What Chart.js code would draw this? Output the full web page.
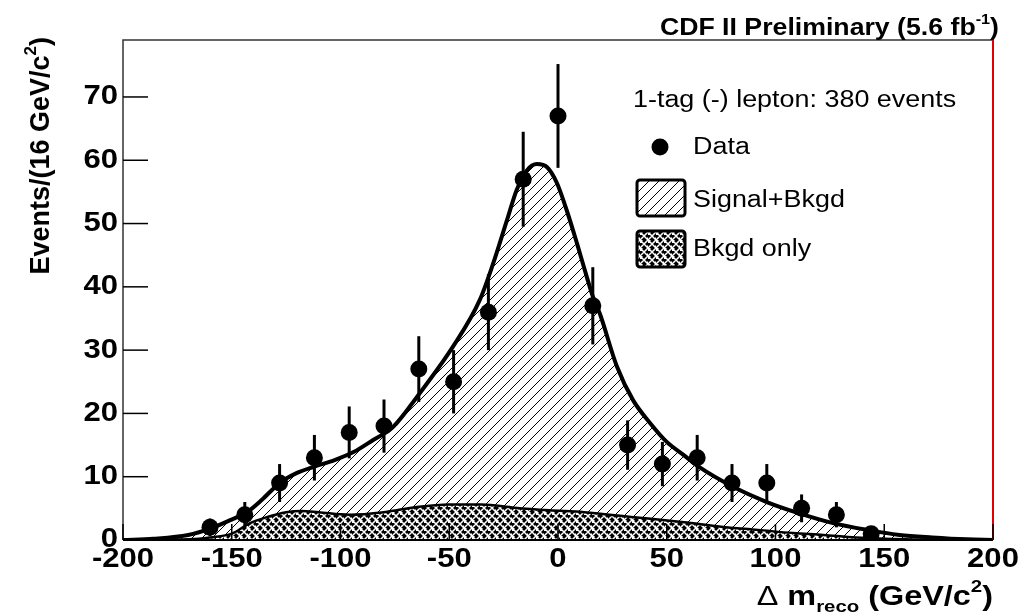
<!DOCTYPE html>
<html>
<head>
<meta charset="utf-8">
<script src="https://cdn.jsdelivr.net/npm/chart.js@4"></script>
<style>
  body { margin: 0; background: #fff; }
</style>
</head>
<body>
<canvas id="c" width="1025" height="614"></canvas>
<script>
// bin centres (GeV/c^2) and observed events per 16 GeV/c^2
const binCenters = [-160, -144, -128, -112, -96, -80, -64, -48, -32, -16, 0, 16, 32, 48, 64, 80, 96, 112, 128, 144];
const counts     = [2, 4, 9, 13, 17, 18, 27, 25, 36, 57, 67, 37, 15, 12, 13, 9, 9, 5, 4, 1];
const countErr   = [1.4, 2, 3, 3.6, 4.1, 4.2, 5.2, 5, 6, 7.5, 8.2, 6.1, 3.9, 3.5, 3.6, 3, 3, 2.2, 2, 1];

// Signal+Bkgd template curve
const sbX = [-200, -186, -170, -160, -151, -143, -136, -128, -120, -112, -103, -94, -85, -76, -64, -48, -36, -30, -23.5, -19, -14.3, -9.7, -5, -0.5, 4, 8.7, 13.3, 16, 19.3, 27, 34.5, 42.3, 50, 57.5, 65, 80.5, 96, 111, 126, 142, 157, 172, 188, 200];
const sbY = [0, 0.2, 0.8, 1.8, 3.1, 4.4, 6.4, 9.0, 10.6, 11.6, 12.6, 13.9, 15.8, 17.8, 23.0, 30.7, 37.9, 43.5, 50.5, 55.3, 58.4, 59.4, 58.9, 56.4, 52.1, 46.9, 41.5, 38.5, 35.7, 27.5, 22.1, 18.5, 15.5, 13.5, 11.5, 8.4, 6.0, 4.2, 2.7, 1.6, 0.8, 0.4, 0.1, 0];

// Bkgd only template curve
const bkX = [-200, -180, -165, -160, -150, -142, -134, -125, -118, -110, -96, -80, -65, -50, -35, -20, -4, 12, 35, 58, 75, 92, 108, 122, 137, 160, 180, 200];
const bkY = [0, 0.05, 0.2, 0.4, 1.0, 2.6, 3.6, 4.4, 4.6, 4.4, 4.0, 4.4, 5.2, 5.6, 5.6, 5.1, 4.7, 4.4, 3.6, 2.8, 2.1, 1.6, 1.1, 0.8, 0.4, 0.1, 0.02, 0];

const xTickValues = [-200, -150, -100, -50, 0, 50, 100, 150, 200];
const yTickValues = [0, 10, 20, 30, 40, 50, 60, 70];

const canvas = document.getElementById('c');
const ctx = canvas.getContext('2d');

function hatchPattern() {
    const t = document.createElement('canvas');
    t.width = 10; t.height = 10;
    const g = t.getContext('2d');
    g.fillStyle = '#fff';
    g.fillRect(0, 0, 10, 10);
    g.strokeStyle = '#000';
    g.lineWidth = 1;
    g.beginPath();
    g.moveTo(-1, 11); g.lineTo(11, -1);
    g.moveTo(-6, 6); g.lineTo(6, -6);
    g.moveTo(4, 16); g.lineTo(16, 4);
    g.stroke();
    return ctx.createPattern(t, 'repeat');
}

function crossPattern() {
    const t = document.createElement('canvas');
    t.width = 8; t.height = 8;
    const g = t.getContext('2d');
    g.fillStyle = '#000';
    g.fillRect(0, 0, 8, 8);
    g.strokeStyle = '#fff';
    g.lineWidth = 1.5;
    g.beginPath();
    g.moveTo(-1, 9); g.lineTo(9, -1);
    g.moveTo(-1, -1); g.lineTo(9, 9);
    g.moveTo(3, -1); g.lineTo(-1, 3);
    g.moveTo(9, 5); g.lineTo(5, 9);
    g.stroke();
    return ctx.createPattern(t, 'repeat');
}

const hatch = hatchPattern();
const cross = crossPattern();

// horizontally stretched text, the original plot is squeezed that way
const SX = 1.17;
function txt(c, s, x, y, font, align, base, sx) {
    c.save();
    c.font = font;
    c.textAlign = align || 'left';
    c.textBaseline = base || 'alphabetic';
    c.translate(x, y);
    c.scale(sx || SX, 1);
    c.fillText(s, 0, 0);
    c.restore();
}

// pieces: [text, font, dy]; drawn right-aligned ending at xr
function pieces(c, parts, xr, y, sx) {
    let w = 0;
    parts.forEach(p => { c.font = p[1]; w += c.measureText(p[0]).width * sx; });
    let x = xr - w;
    parts.forEach(p => {
        txt(c, p[0], x, y + (p[2] || 0), p[1], 'left', 'alphabetic', sx);
        c.font = p[1];
        x += c.measureText(p[0]).width * sx;
    });
}

const decor = {
    id: 'decor',
    afterDatasetsDraw(chart) {
        const c = chart.ctx;
        const a = chart.chartArea;
        const xs = chart.scales.x, ys = chart.scales.y;
        c.save();
        // error bars
        c.strokeStyle = '#000';
        c.lineWidth = 3;
        binCenters.forEach((x, i) => {
            const px = xs.getPixelForValue(x);
            c.beginPath();
            c.moveTo(px, ys.getPixelForValue(counts[i] - countErr[i]));
            c.lineTo(px, ys.getPixelForValue(counts[i] + countErr[i]));
            c.stroke();
        });
        // frame
        c.lineWidth = 1.5;
        c.strokeStyle = '#333';
        c.beginPath();
        c.moveTo(a.left, a.bottom); c.lineTo(a.left, a.top); c.lineTo(a.right, a.top);
        c.stroke();
        c.lineWidth = 2;
        c.strokeStyle = '#000';
        c.beginPath();
        c.moveTo(a.left, a.bottom); c.lineTo(a.right, a.bottom);
        c.stroke();
        c.strokeStyle = '#e00000';
        c.beginPath();
        c.moveTo(a.right, a.top); c.lineTo(a.right, a.bottom);
        c.stroke();
        // inward ticks
        c.strokeStyle = '#000';
        c.lineWidth = 1.5;
        yTickValues.forEach(v => {
            const py = ys.getPixelForValue(v);
            c.beginPath(); c.moveTo(a.left, py); c.lineTo(a.left + 25, py); c.stroke();
        });
        xTickValues.forEach(v => {
            const px = xs.getPixelForValue(v);
            c.beginPath(); c.moveTo(px, a.bottom); c.lineTo(px, a.bottom - 16); c.stroke();
        });
        c.restore();
    },
    afterDraw(chart) {
        const c = chart.ctx;
        const a = chart.chartArea;
        const xs = chart.scales.x, ys = chart.scales.y;
        const bold = s => 'bold ' + s + 'px "Liberation Sans", Arial, sans-serif';
        const reg = s => s + 'px "Liberation Sans", Arial, sans-serif';
        c.save();
        c.fillStyle = '#000';

        // tick labels
        yTickValues.forEach(v => {
            txt(c, String(v), a.left - 5, ys.getPixelForValue(v), bold(27), 'right', 'middle', 1.15);
        });
        xTickValues.forEach(v => {
            txt(c, String(v), xs.getPixelForValue(v), a.bottom + 20, bold(27), 'center', 'middle', 1.15);
        });

        // axis titles
        pieces(c, [['\u0394 ', reg(27)], ['m', bold(27)], ['reco', bold(17), 7],
                   [' (GeV/c', bold(27)], ['2', bold(17), -13], [')', bold(27)]],
               a.right, a.bottom + 65, 1.2);

        c.save();
        c.translate(49, a.top - 3);
        c.rotate(-Math.PI / 2);
        pieces(c, [['Events/(16 GeV/c', bold(27)], ['2', bold(17), -13], [')', bold(27)]], 0, 0, 1);
        c.restore();

        // top label
        pieces(c, [['CDF II Preliminary (5.6 fb', bold(23)], ['-1', bold(14), -11], [')', bold(23)]],
               a.right + 6, a.top - 5, 1.16);

        // legend
        const lx = a.left + 510;
        txt(c, '1-tag (-) lepton: 380 events', lx, a.top + 67, reg(23));
        c.beginPath();
        c.arc(lx + 27, a.top + 107, 8.5, 0, Math.PI * 2);
        c.fill();
        txt(c, 'Data', lx + 60, a.top + 114, reg(23));

        c.lineWidth = 3;
        c.strokeStyle = '#000';
        c.fillStyle = hatch;
        c.beginPath(); c.roundRect(lx + 4, a.top + 140, 48, 36, 3); c.fill(); c.stroke();
        c.fillStyle = cross;
        c.beginPath(); c.roundRect(lx + 4, a.top + 191, 48, 36, 3); c.fill(); c.stroke();
        c.fillStyle = '#000';
        txt(c, 'Signal+Bkgd', lx + 60, a.top + 167, reg(23));
        txt(c, 'Bkgd only', lx + 60, a.top + 216, reg(23));
        c.restore();
    }
};

const dataPoints = binCenters.map((x, i) => ({x: x, y: counts[i]}));
const sbCurve = sbX.map((x, i) => ({x: x, y: sbY[i]}));
const bkCurve = bkX.map((x, i) => ({x: x, y: bkY[i]}));
const zeroLine = [{x: binCenters[0], y: 0}, {x: binCenters[binCenters.length - 2], y: 0}];

new Chart(canvas, {
    type: 'line',
    data: {
        datasets: [{
            label: 'Data',
            data: dataPoints,
            showLine: false,
            pointRadius: 8.5,
            pointBackgroundColor: '#000',
            pointBorderWidth: 0,
            order: 0
        }, {
            label: 'zero',
            data: zeroLine,
            borderColor: '#dd0000',
            borderDash: [5, 4],
            borderWidth: 2,
            pointRadius: 0,
            order: 1
        }, {
            label: 'Bkgd only',
            data: bkCurve,
            borderColor: '#000',
            borderWidth: 2.5,
            backgroundColor: cross,
            fill: 'origin',
            pointRadius: 0,
            cubicInterpolationMode: 'monotone',
            order: 2
        }, {
            label: 'Signal+Bkgd',
            data: sbCurve,
            borderColor: '#000',
            borderWidth: 4,
            backgroundColor: hatch,
            fill: 'origin',
            pointRadius: 0,
            cubicInterpolationMode: 'monotone',
            order: 3
        }]
    },
    options: {
        responsive: false,
        animation: false,
        devicePixelRatio: 1,
        layout: {padding: {top: 40, right: 32, left: 0, bottom: 0}},
        plugins: {legend: {display: false}, tooltip: {enabled: false}},
        scales: {
            x: {
                type: 'linear', min: -200, max: 200,
                grid: {display: false}, border: {display: false},
                ticks: {display: false},
                afterFit: s => { s.height = 74; }
            },
            y: {
                min: 0, max: 79,
                grid: {display: false}, border: {display: false},
                ticks: {display: false},
                afterFit: s => { s.width = 123; }
            }
        }
    },
    plugins: [decor]
});
</script>
</body>
</html>
